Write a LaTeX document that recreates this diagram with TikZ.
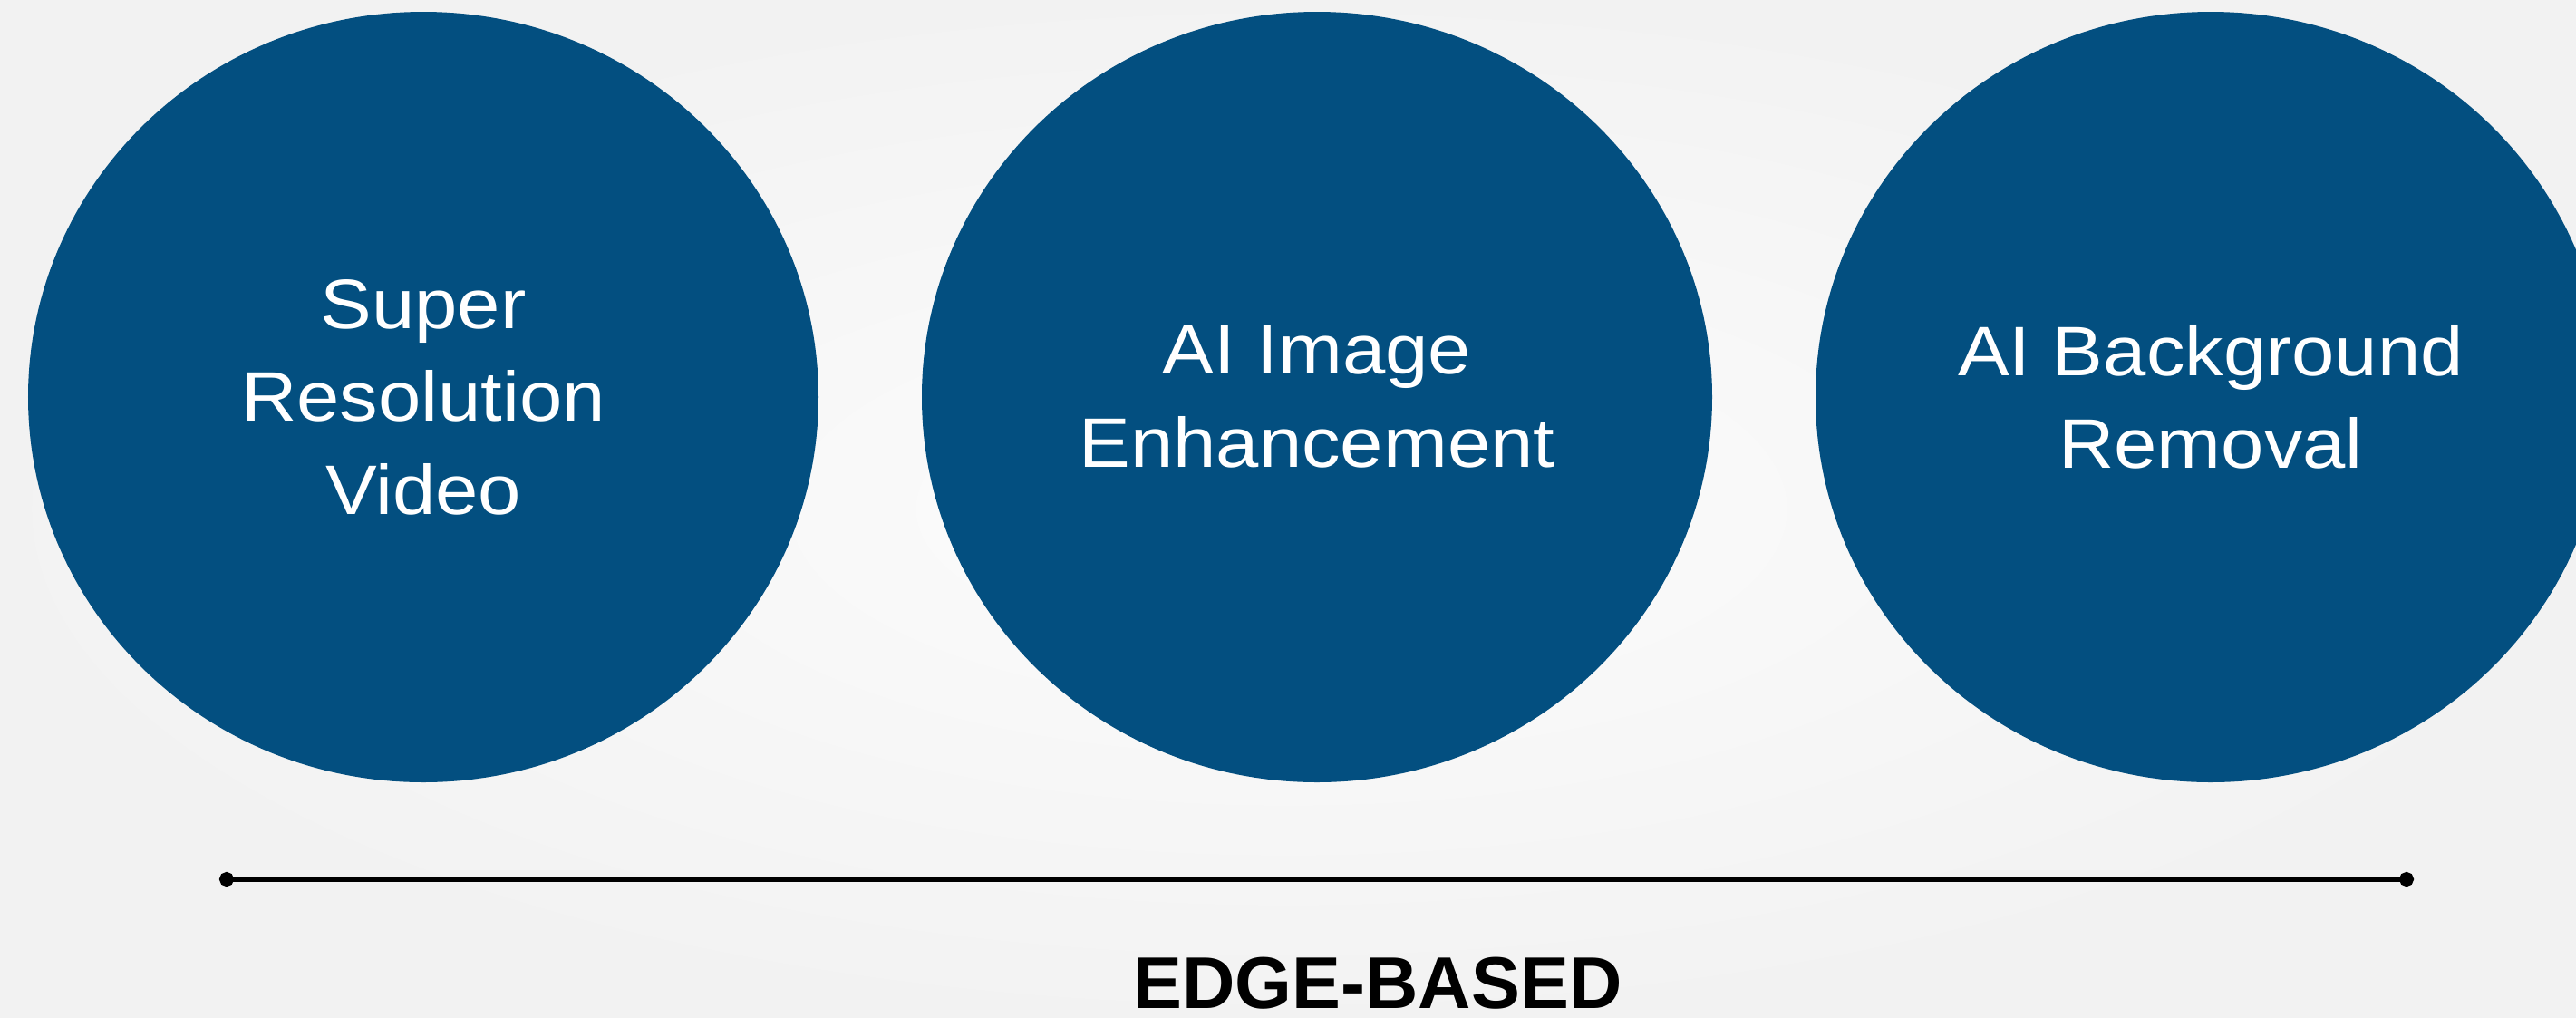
\documentclass[tikz,border=0pt]{standalone}
\usepackage{fontspec}
\setmainfont{Liberation Sans}
\newfontfamily\bubblefont[FakeStretch=1.1]{Liberation Sans}
\usetikzlibrary{shapes.geometric,arrows.meta}
\definecolor{bubbleblue}{RGB}{3,79,128}
\tikzset{
  bubble/.style={ellipse, fill=bubbleblue, text=white, minimum width=8.72cm,
    minimum height=8.5cm, inner sep=0pt, align=center,
    font=\bubblefont\fontsize{22}{29.2}\selectfont},
  scaleline/.style={line width=0.06cm, {Circle[length=0.16cm]}-{Circle[length=0.16cm]}},
  tag/.style={font=\bfseries\fontsize{23}{27}\selectfont, anchor=base, inner sep=0pt}
}
\begin{document}
\begin{tikzpicture}
    \useasboundingbox (0,0) rectangle (28.42,-11.22);
    \clip (0,0) rectangle (28.42,-11.22);
    \shade[inner color=black!1, outer color=black!5] (0,0) rectangle (28.42,-11.22);
    \foreach \nm/\x/\txt in {sr/4.67/{Super\\Resolution\\Video},
                             ie/14.53/{AI Image\\Enhancement},
                             br/24.39/{AI Background\\Removal}}
      {
        \node[bubble] (\nm) at (\x,-4.38) {\txt};
      }
    \coordinate (lo) at (2.42,-9.70);
    \coordinate (hi) at (26.63,-9.70);
    \draw[scaleline] (lo) -- (hi);
    \node[tag] (edge) at (15.20,-11.12) {EDGE-BASED};
  \end{tikzpicture}
\end{document}
